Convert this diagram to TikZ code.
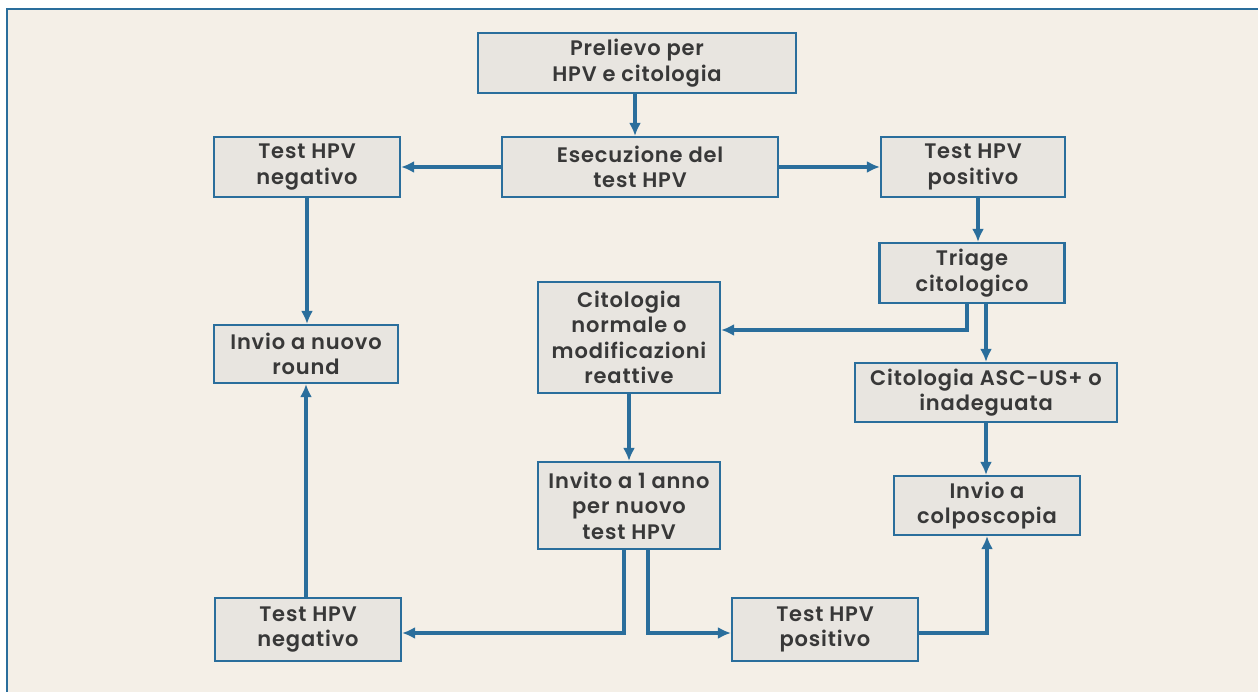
\documentclass[tikz,border=0pt]{standalone}
\usepackage{fontspec}
\setmainfont{Poppins}[BoldFont={Poppins SemiBold}, BoldFeatures={LetterSpace=4}]
\usetikzlibrary{calc,arrows.meta}
\definecolor{lineblue}{HTML}{2A6E9C}
\definecolor{boxfill}{HTML}{E8E5E0}
\definecolor{paper}{HTML}{F4EFE7}
\definecolor{txt}{HTML}{383838}
\tikzset{
  box/.style={draw=lineblue, line width=2.2pt, fill=boxfill, align=center,
    inner sep=0pt, font=\fontsize{21}{25.5}\selectfont\bfseries, text=txt},
  conn/.style={draw=lineblue, line width=3.4pt, -{Latex[length=13pt,width=12pt]}}
}
\begin{document}
\begin{tikzpicture}[x=1pt,y=-1pt]
\useasboundingbox (0,0) rectangle (1258,692);
\fill[white] (-2,-2) rectangle (1262,696);
\fill[paper] (7,9) rectangle (1262,696);
\draw[lineblue, line width=2.6pt] (7,696) -- (7,9) -- (1262,9);

\node[box, minimum width=318pt, minimum height=60pt] (prel) at (637,63) {Prelievo per\\HPV e citologia};
\node[box, minimum width=276pt, minimum height=60pt] (esec) at (640,167) {Esecuzione del\\test HPV};
\node[box, minimum width=186pt, minimum height=60pt] (negA) at (307,167) {Test HPV\\negativo};
\node[box, minimum width=184pt, minimum height=60pt] (posA) at (973,167) {Test HPV\\positivo};
\node[box, minimum width=185pt, minimum height=60pt] (triage) at (972,273) {Triage\\citologico};
\node[box, minimum width=182pt, minimum height=111pt] (citnorm) at (629,337.5) {Citologia\\normale o\\modificazioni\\reattive};
\node[box, minimum width=184pt, minimum height=58pt] (round) at (306,354) {Invio a nuovo\\round};
\node[box, minimum width=262pt, minimum height=59pt] (ascus) at (986,392.5) {Citologia ASC-US+ o\\inadeguata};
\node[box, minimum width=182pt, minimum height=87pt] (invito) at (629,505.5) {Invito a 1 anno\\per nuovo\\test HPV};
\node[box, minimum width=186pt, minimum height=59pt] (colpo) at (987,505.5) {Invio a\\colposcopia};
\node[box, minimum width=186pt, minimum height=63pt] (negB) at (308,629.5) {Test HPV\\negativo};
\node[box, minimum width=186pt, minimum height=63pt] (posB) at (825,629.5) {Test HPV\\positivo};

\draw[conn] ($(prel.south)+(-2,0)$) -- ($(esec.north)+(-5,0)$);
\draw[conn] (esec.west) -- (negA.east);
\draw[conn] (esec.east) -- (posA.west);
\draw[conn] ($(posA.south)+(5,0)$) -- ($(triage.north)+(6,0)$);
\draw[conn] ($(triage.south)+(-5,0)$) |- ($(citnorm.east)+(0,-7.5)$);
\draw[conn] (ascus.north |- triage.south) -- (ascus.north);
\draw[conn] (ascus.south) -- (ascus.south |- colpo.north);
\draw[conn] (citnorm.south) -- (invito.north);
\draw[conn] (negA.south) -- (negA.south |- round.north);
\draw[conn] (negB.north -| round.south) -- (round.south);
\draw[conn] ($(invito.south)+(-5,0)$) |- ($(negB.east)+(0,3.5)$);
\draw[conn] ($(invito.south)+(19,0)$) |- ($(posB.west)+(0,3.5)$);
\draw[conn] ($(posB.east)+(0,3.5)$) -| (colpo.south);
\end{tikzpicture}
\end{document}
